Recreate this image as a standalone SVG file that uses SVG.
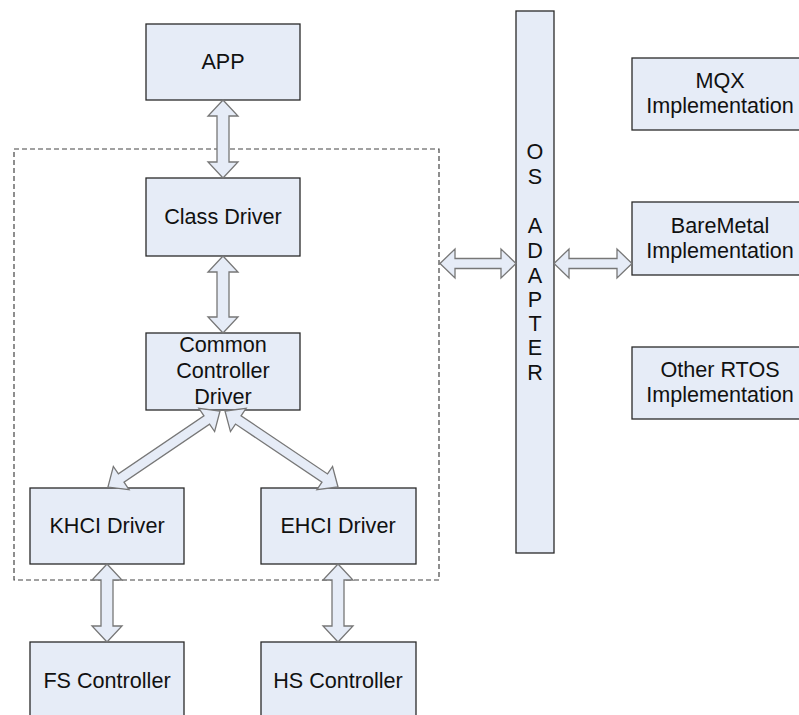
<svg xmlns="http://www.w3.org/2000/svg" width="799" height="715" viewBox="0 0 799 715">
<style>
.box{fill:#E6ECF7;stroke:#2a2a2a;stroke-width:1.3}
.arr{fill:#E6ECF7;stroke:#777;stroke-width:1.3;stroke-linejoin:miter}
.dash{fill:none;stroke:#444;stroke-width:1.2;stroke-dasharray:5,3}
text{font-family:"Liberation Sans",Arial,sans-serif;font-size:21.6px;fill:#111;text-anchor:middle}
</style>
<rect width="799" height="715" fill="#fff"/>
<rect class="dash" x="14" y="149" width="425" height="431"/>
<g id="app"><rect class="box" x="146" y="24" width="154" height="76"/><text x="223" y="69">APP</text></g>
<g id="class-driver"><rect class="box" x="146" y="178" width="154" height="78"/><text x="223" y="224">Class Driver</text></g>
<g id="common-controller"><rect class="box" x="146" y="333" width="154" height="77"/><text x="223" y="352">Common</text><text x="223" y="378">Controller</text><text x="223" y="404">Driver</text></g>
<g id="khci"><rect class="box" x="30" y="488" width="154" height="76"/><text x="107" y="533">KHCI Driver</text></g>
<g id="ehci"><rect class="box" x="261" y="488" width="155" height="76"/><text x="338" y="533">EHCI Driver</text></g>
<g id="fs"><rect class="box" x="30" y="642" width="154" height="90"/><text x="107" y="688">FS Controller</text></g>
<g id="hs"><rect class="box" x="261" y="642" width="155" height="90"/><text x="338" y="688">HS Controller</text></g>
<g id="os-adapter"><rect class="box" x="516" y="11" width="38" height="542"/>
<text x="535" y="159">O</text><text x="535" y="184">S</text><text x="535" y="233">A</text><text x="535" y="258">D</text><text x="535" y="283">A</text><text x="535" y="307">P</text><text x="535" y="331">T</text><text x="535" y="355">E</text><text x="535" y="380">R</text></g>
<g id="mqx"><rect class="box" x="632" y="58" width="176" height="72"/><text x="720" y="88">MQX</text><text x="720" y="113">Implementation</text></g>
<g id="baremetal"><rect class="box" x="632" y="202" width="176" height="73"/><text x="720" y="233">BareMetal</text><text x="720" y="258">Implementation</text></g>
<g id="other-rtos"><rect class="box" x="632" y="347" width="176" height="72"/><text x="720" y="377">Other RTOS</text><text x="720" y="402">Implementation</text></g>
<g id="connectors">
<polygon class="arr" points="223,100 238,116 229,116 229,162 238,162 223,178 208,162 217,162 217,116 208,116"/>
<polygon class="arr" points="223,256 238,272 229,272 229,317 238,317 223,333 208,317 217,317 217,272 208,272"/>
<polygon class="arr" points="107,564 122,580 113,580 113,626 122,626 107,642 92,626 101,626 101,580 92,580"/>
<polygon class="arr" points="338,564 353,580 344,580 344,626 353,626 338,642 323,626 332,626 332,580 323,580"/>
<polygon class="arr" points="440,263.5 455,249 455,258.5 501,258.5 501,249 516,263.5 501,278 501,268.5 455,268.5 455,278"/>
<polygon class="arr" points="554,263.5 569,249 569,258.5 617,258.5 617,249 632,263.5 617,278 617,268.5 569,268.5 569,278"/>
<polygon class="arr" transform="translate(220,411) rotate(145.84)" points="0,0 16,-14 16,-5 119.4,-5 119.4,-14 135.4,0 119.4,14 119.4,5 16,5 16,14"/>
<polygon class="arr" transform="translate(225,411) rotate(33.92)" points="0,0 16,-14 16,-5 120.2,-5 120.2,-14 136.2,0 120.2,14 120.2,5 16,5 16,14"/>
</g>
</svg>
